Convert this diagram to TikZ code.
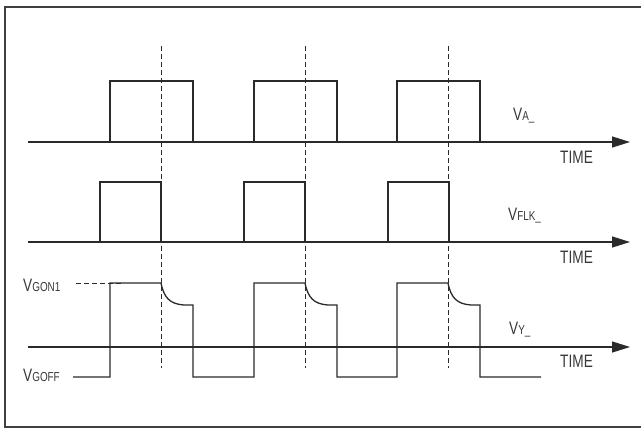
\documentclass[tikz,border=0pt]{standalone}
\usepackage{fontspec}
\setmainfont{Liberation Sans}[FakeStretch=0.76]
\usetikzlibrary{arrows.meta}
\definecolor{ink}{HTML}{2A2A2A}
\definecolor{txt}{HTML}{383838}
\tikzset{
  wave/.style={draw=ink, line width=1.3pt, line join=miter},
  axis/.style={draw=ink, line width=1.3pt, -{Triangle[length=18pt,width=11pt]}},
  guide/.style={draw=ink, line width=0.9pt, dash pattern=on 5pt off 3pt},
  lbl/.style={text=txt, inner sep=0pt, font=\fontsize{18}{18}\selectfont},
  frm/.style={draw=black!75, line width=2pt}
}
\newcommand{\sm}[1]{{\fontsize{13}{13}\selectfont #1}}
\begin{document}
\begin{tikzpicture}[x=1pt,y=-1pt]
\useasboundingbox (0,0) rectangle (641,429);
\draw[frm] (5,7) rectangle (642,427);
% guides
\foreach \gx in {161,305,448} \draw[guide] (\gx,46) -- (\gx,368);
% V_A
\coordinate (a0) at (28,142);
\coordinate (a1) at (630,142);
\draw[axis] (a0) -- (a1);
\foreach \px in {110,254,397}
  \draw[wave] (\px,142) -- (\px,81) -- (\px+83,81) -- (\px+83,142);
% V_FLK
\coordinate (f0) at (28,242);
\coordinate (f1) at (630,242);
\draw[axis] (f0) -- (f1);
\foreach \px in {100,244,388}
  \draw[wave] (\px,242) -- (\px,182) -- (\px+61,182) -- (\px+61,242);
% V_Y
\coordinate (y0) at (28,347);
\coordinate (y1) at (630,347);
\draw[axis] (y0) -- (y1);
\coordinate (goffL) at (73,377);
\coordinate (gonL) at (76,283);
\draw[wave] (goffL) -- (110,377)
  -- (110,283) -- (161,283) .. controls (164,298) and (170,304) .. (184,305) -- (193,305) -- (193,377)
  -- (254,377) -- (254,283) -- (305,283) .. controls (308,298) and (314,304) .. (328,305) -- (337,305) -- (337,377)
  -- (397,377) -- (397,283) -- (448,283) .. controls (451,298) and (457,304) .. (471,305) -- (480,305) -- (480,377)
  -- (541,377);
\draw[guide] (gonL) -- (123,283);
% labels
\node[lbl, anchor=base west] (la) at (513,120) {V\sm{A\_}};
\node[lbl, anchor=base west] (lf) at (508,220) {V\sm{FLK\_}};
\node[lbl, anchor=base west] (ly) at (509,334) {V\sm{Y\_}};
\node[lbl, anchor=base west] (t1) at (560,163) {TIME};
\node[lbl, anchor=base west] (t2) at (560,263) {TIME};
\node[lbl, anchor=base west] (t3) at (560,367) {TIME};
\node[lbl, anchor=base west] (von) at (23,291) {V\sm{GON1}};
\node[lbl, anchor=base west] (voff) at (23,381) {V\sm{GOFF}};
\end{tikzpicture}
\end{document}
